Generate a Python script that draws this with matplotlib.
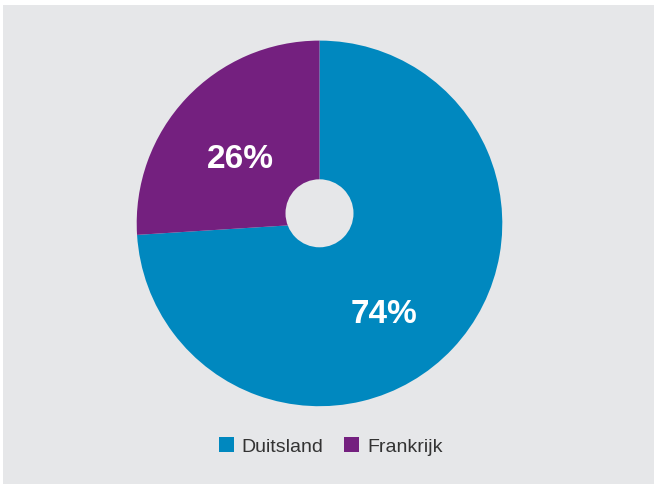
import matplotlib
matplotlib.use("Agg")
import matplotlib.pyplot as plt
from matplotlib.patches import Rectangle, Circle, Patch

categories = ["Duitsland", "Frankrijk"]
values = [74, 26]
colors = ["#0088bf", "#74207f"]
bg = "#e6e7e9"

W, H = 654, 484
fig = plt.figure(figsize=(W / 100, H / 100), dpi=100)
fig.patch.set_facecolor("white")
ax = fig.add_axes([0, 0, 1, 1])
ax.set_xlim(0, W)
ax.set_ylim(0, H)
ax.set_aspect("equal")
ax.axis("off")

# gray panel
ax.add_patch(Rectangle((3, 0), W - 3, H - 5, facecolor=bg, edgecolor="none", zorder=0))

cx, cy, r = 319.5, H - 223.4, 182.8
wedges, texts, autotexts = ax.pie(
    values, colors=colors, startangle=90, counterclock=False,
    center=(cx, cy), radius=r, autopct="%d%%", pctdistance=0.58,
    textprops=dict(color="white", fontsize=24, fontfamily="Liberation Sans", fontweight="bold"),
    frame=True,
)
ax.set_xlim(0, W)
ax.set_ylim(0, H)
ax.axis("off")

# label placement offsets (layout) relative to pie centre
label_offsets = [(65.0, -91.0), (-79.5, 63.5)]
for t, (dx, dy) in zip(autotexts, label_offsets):
    t.set_position((cx + dx, cy + dy))
    t.set_va("center")
    t.set_ha("center")

# hole
ax.add_patch(Circle((cx, H - 213.3), 34, facecolor=bg, edgecolor="none", zorder=5))

handles = [Patch(facecolor=c, edgecolor="none") for c in colors]
fig.legend(handles, categories, loc="center", bbox_to_anchor=(330.5 / W, 37.5 / H),
           ncol=2, frameon=False, handlelength=0.77, handleheight=0.77,
           handletextpad=0.4, columnspacing=1.08,
           prop=dict(family="Liberation Sans", size=14), labelcolor="#333333")

fig.savefig("out.png", dpi=100, facecolor="white")
